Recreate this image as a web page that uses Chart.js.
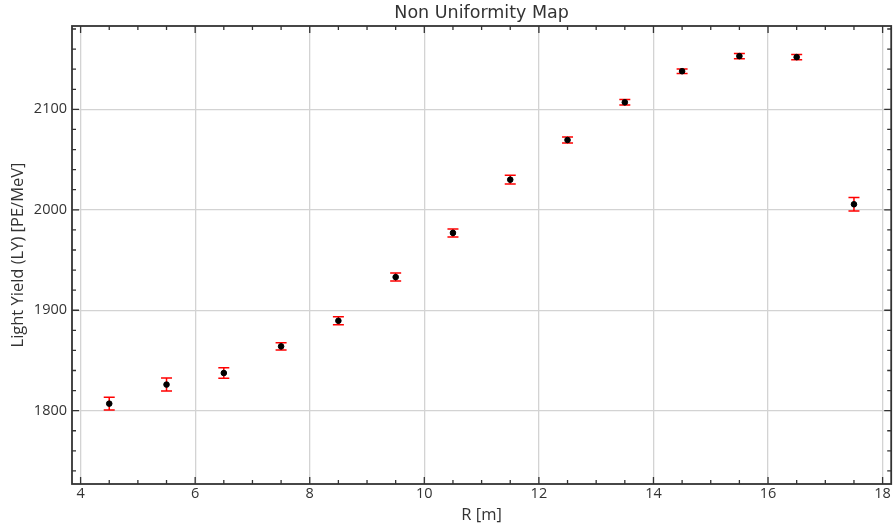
<!DOCTYPE html>
<html>
<head>
<meta charset="utf-8">
<script src="https://cdn.jsdelivr.net/npm/chart.js@4/dist/chart.umd.min.js"></script>
<style>
  html, body { margin: 0; padding: 0; background: #fff; }
  #wrap { width: 895px; height: 530px; }
</style>
</head>
<body>
<div id="wrap"><canvas id="c" width="895" height="530"></canvas></div>
<script>
// Light yield per radial bin
const radius = [4.5, 5.5, 6.5, 7.5, 8.5, 9.5, 10.5, 11.5, 12.5, 13.5, 14.5, 15.5, 16.5, 17.5];
const lightYield = [1807, 1826, 1837.5, 1864, 1889.5, 1933, 1977, 2030, 2069.5, 2107, 2138, 2153, 2152, 2005.5];
const yieldError = [6.3, 6.5, 5.2, 3.7, 4, 4, 4, 4.3, 3, 2.7, 2.2, 2.7, 2.7, 6.7];

const xTicks = [4, 6, 8, 10, 12, 14, 16, 18];
const yTicks = [1800, 1900, 2000, 2100];
const xMinorStep = 0.5;
const yMinorStep = 20;

const textColor = '#333333';
const labelFont = "'Open Sans', 'Noto Sans', sans-serif";
const titleFont = "'DejaVu Sans', sans-serif";

// Vertical error bars with caps, drawn beneath the markers
const errorBars = {
  id: 'errorBars',
  beforeDatasetsDraw(chart) {
    const { ctx, scales: { x, y } } = chart;
    ctx.save();
    ctx.strokeStyle = '#ff0000';
    ctx.lineWidth = 1.5;
    radius.forEach((r, i) => {
      const px = x.getPixelForValue(r);
      const top = y.getPixelForValue(lightYield[i] + yieldError[i]);
      const bot = y.getPixelForValue(lightYield[i] - yieldError[i]);
      ctx.beginPath();
      ctx.moveTo(px, top); ctx.lineTo(px, bot);
      ctx.moveTo(px - 5.5, top); ctx.lineTo(px + 5.5, top);
      ctx.moveTo(px - 5.5, bot); ctx.lineTo(px + 5.5, bot);
      ctx.stroke();
    });
    ctx.restore();
  }
};

// Box frame with inward major/minor ticks on all four sides
const frameTicks = {
  id: 'frameTicks',
  afterDraw(chart) {
    const { ctx, chartArea: a, scales: { x, y } } = chart;
    ctx.save();
    ctx.strokeStyle = '#333333';
    ctx.lineWidth = 1.3;
    const major = 7, minor = 4;
    const tick = (x1, y1, x2, y2) => { ctx.moveTo(x1, y1); ctx.lineTo(x2, y2); };
    ctx.beginPath();
    for (let v = Math.ceil(x.min / xMinorStep) * xMinorStep; v <= x.max + 1e-9; v += xMinorStep) {
      const px = x.getPixelForValue(v);
      const len = xTicks.some(t => Math.abs(t - v) < 1e-9) ? major : minor;
      tick(px, a.bottom, px, a.bottom - len);
      tick(px, a.top, px, a.top + len);
    }
    for (let v = Math.ceil(y.min / yMinorStep) * yMinorStep; v <= y.max + 1e-9; v += yMinorStep) {
      const py = y.getPixelForValue(v);
      const len = yTicks.some(t => Math.abs(t - v) < 1e-9) ? major : minor;
      tick(a.left, py, a.left + len, py);
      tick(a.right, py, a.right - len, py);
    }
    ctx.stroke();
    ctx.lineWidth = 1.8;
    ctx.strokeRect(a.left, a.top, a.right - a.left, a.bottom - a.top);
    ctx.restore();
  }
};

new Chart(document.getElementById('c'), {
  type: 'scatter',
  data: {
    datasets: [{
      data: radius.map((r, i) => ({ x: r, y: lightYield[i] })),
      backgroundColor: '#000000',
      borderColor: '#000000',
      pointRadius: 2.8,
      pointHoverRadius: 2.8
    }]
  },
  options: {
    responsive: false,
    animation: false,
    events: [],
    layout: { padding: { left: 0, right: 1.3, top: 0, bottom: 0 } },
    plugins: {
      legend: { display: false },
      tooltip: { enabled: false },
      title: {
        display: true,
        fullSize: false,
        text: 'Non Uniformity Map',
        color: textColor,
        font: { family: titleFont, size: 17.5, weight: 'normal' },
        padding: { top: 2.5, bottom: 2.5 }
      }
    },
    scales: {
      x: {
        type: 'linear',
        min: 3.85,
        max: 18.15,
        afterBuildTicks(s) { s.ticks = xTicks.map(v => ({ value: v })); },
        afterFit(s) { s.height = 46; },
        border: { display: false },
        grid: { color: '#d3d3d3', lineWidth: 1.3, drawTicks: false },
        ticks: {
          color: textColor, font: { family: labelFont, size: 14.5 }, padding: 1.5,
          callback: v => String(v)
        },
        title: {
          display: true, text: 'R [m]', color: textColor,
          font: { family: labelFont, size: 16.5 }, padding: { top: 0, bottom: 5.1 }
        }
      },
      y: {
        type: 'linear',
        min: 1727,
        max: 2183,
        afterBuildTicks(s) { s.ticks = yTicks.map(v => ({ value: v })); },
        afterFit(s) { s.width = 72; },
        border: { display: false },
        grid: { color: '#d3d3d3', lineWidth: 1.3, drawTicks: false },
        ticks: {
          color: textColor, font: { family: labelFont, size: 14.5 }, padding: 5,
          callback: v => String(v)
        },
        title: {
          display: true, text: 'Light Yield (LY) [PE/MeV]', color: textColor,
          font: { family: labelFont, size: 16.5 }, padding: { top: 8.1, bottom: 0 }
        }
      }
    }
  },
  plugins: [errorBars, frameTicks]
});
</script>
</body>
</html>
